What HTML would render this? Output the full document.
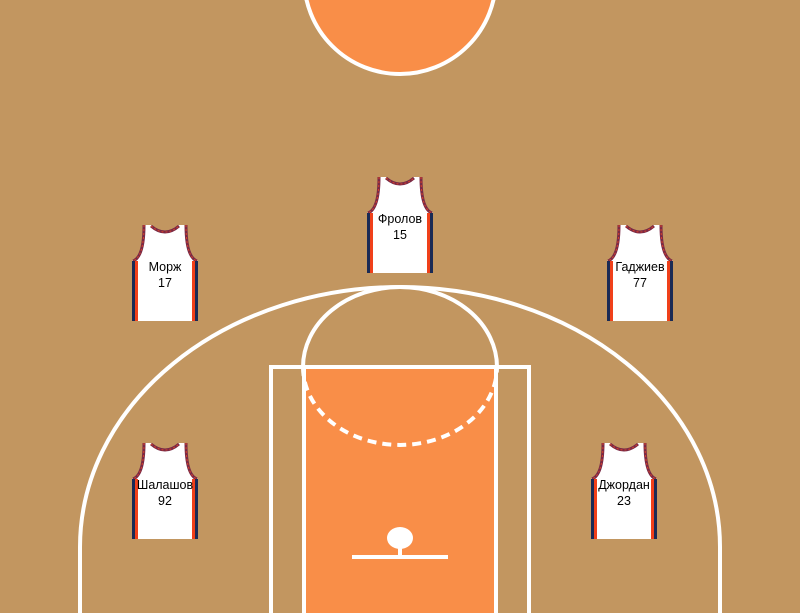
<!DOCTYPE html>
<html><head><meta charset="utf-8"><style>
html,body{margin:0;padding:0;background:#c29660;}
svg{display:block;font-family:"Liberation Sans","DejaVu Sans",sans-serif;}
</style></head><body>
<svg id="court" width="800" height="613" viewBox="0 0 800 613" xmlns="http://www.w3.org/2000/svg">
<rect x="0" y="0" width="800" height="613" fill="#c29660"/>
<circle cx="400" cy="-22" r="96" fill="#f98e48" stroke="#fff" stroke-width="4"/>
<path d="M80,613 L80,547 A320,260 0 0 1 720,547 L720,613" fill="none" stroke="#fff" stroke-width="4"/>
<rect x="271" y="367" width="258" height="250" fill="none" stroke="#fff" stroke-width="4"/>
<rect x="304" y="367" width="192" height="250" fill="#f98e48" stroke="#fff" stroke-width="4"/>
<path d="M303,367 A97,80 0 0 1 497,367" fill="none" stroke="#fff" stroke-width="4"/>
<path d="M303,367 A97,78 0 0 0 497,367" fill="none" stroke="#fff" stroke-width="4" stroke-dasharray="9,6"/>
<ellipse cx="400" cy="538" rx="13" ry="11" fill="#fff"/>
<rect x="398" y="546" width="4" height="10" fill="#fff"/>
<rect x="352" y="555" width="96" height="4" fill="#fff"/>
<g id="players"></g>
</svg>
<script>
const names=["Фролов","Морж","Гаджиев","Шалашов","Джордан"];
const numbers=["15","17","77","92","23"];
const px=[367,132,607,132,591];
const py=[177,225,225,443,443];
const NS="http://www.w3.org/2000/svg";
const g=document.getElementById('players');
function mk(t,a,p){const e=document.createElementNS(NS,t);for(const k in a)e.setAttribute(k,a[k]);p.appendChild(e);return e;}
for(let i=0;i<names.length;i++){
  const j=mk('g',{transform:`translate(${px[i]},${py[i]})`},g);
  
  
  const body="M11,0 L19,0 Q33,12 47,0 L55,0 Q55,32 66,36 L66,96 L0,96 L0,36 Q11,32 11,0 Z";
  mk('path',{d:body,fill:'#fff'},j);
  mk('path',{d:"M12,0 Q12,32 1,36 M19,1 Q33,13 47,1 M54,0 Q54,32 65,36",fill:'none',stroke:'#7a2a45','stroke-width':3},j);
  mk('path',{d:"M12,0 Q12,32 1,36 M19,1 Q33,13 47,1 M54,0 Q54,32 65,36",fill:'none',stroke:'#d8402a','stroke-width':1,'stroke-dasharray':'2,2'},j);
  mk('rect',{x:0,y:36,width:3,height:60,fill:'#1a2a55'},j);
  mk('rect',{x:3,y:36,width:3,height:60,fill:'#f0401a'},j);
  mk('rect',{x:63,y:36,width:3,height:60,fill:'#1a2a55'},j);
  mk('rect',{x:60,y:36,width:3,height:60,fill:'#f0401a'},j);
  const t1=mk('text',{x:33,y:46,'text-anchor':'middle','font-size':12.5,fill:'#000'},j);
  t1.textContent=names[i];
  
  
  const t2=mk('text',{x:33,y:62,'text-anchor':'middle','font-size':12.5,fill:'#000'},j);
  t2.textContent=numbers[i];
  
  
}
</script>
</body></html>
